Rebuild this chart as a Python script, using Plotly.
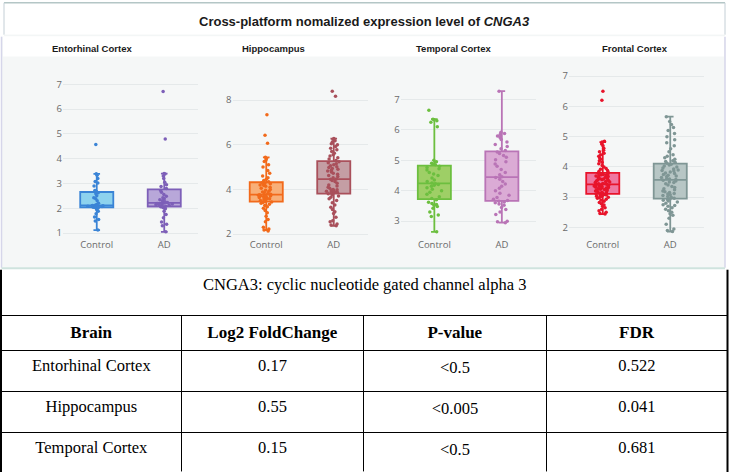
import plotly.graph_objects as go

W, H = 729, 474

# ---------------- data ----------------
regions = ["Entorhinal Cortex", "Hippocampus", "Temporal Cortex", "Frontal Cortex"]
groups = ["Control", "AD"]

ec_control = [1.12, 1.49, 1.55, 1.65, 1.78, 1.88, 1.95, 2.0, 2.03,
              2.04, 2.05, 2.06, 2.07, 2.08, 2.09, 2.1, 2.1, 2.11,
              2.12, 2.15, 2.2, 2.3, 2.38, 2.42, 2.5, 2.58, 2.63,
              2.68, 2.72, 2.9, 3.02, 3.08, 3.2, 3.33, 3.39, 4.57]
ec_ad = [1.05, 1.29, 1.35, 1.45, 1.62, 1.75, 1.88, 1.98, 2.03, 2.06,
         2.08, 2.1, 2.12, 2.14, 2.15, 2.17, 2.18, 2.19, 2.2, 2.21,
         2.23, 2.26, 2.3, 2.34, 2.38, 2.42, 2.48, 2.55, 2.65, 2.72,
         2.8, 2.88, 2.95, 3.05, 3.2, 3.3, 3.38, 3.4, 4.79, 6.71]

hc_control = [2.13, 2.18, 2.22, 2.3, 2.55, 2.65, 2.8, 2.95, 3.05, 3.15, 3.22, 3.28, 3.33, 3.38, 3.41, 3.44,
              3.46, 3.5, 3.53, 3.55, 3.58, 3.6, 3.62, 3.64, 3.66, 3.68, 3.7, 3.71, 3.72, 3.74, 3.75, 3.76,
              3.78, 3.82, 3.85, 3.88, 3.92, 3.96, 4.0, 4.05, 4.1, 4.14, 4.18, 4.2, 4.22, 4.25, 4.27, 4.3,
              4.34, 4.4, 4.45, 4.52, 4.6, 4.72, 4.85, 5.0, 5.1, 5.25, 5.32, 5.38, 5.44, 6.07, 6.43, 7.35]
hc_ad = [2.37, 2.4, 2.45, 2.55, 2.6, 2.75, 2.92, 3.0, 3.1, 3.2, 3.3, 3.4, 3.5, 3.58, 3.65, 3.7, 3.75, 3.8,
         3.83, 3.85, 3.87, 3.88, 3.9, 3.92, 3.94, 3.96, 3.98, 4.0, 4.05, 4.1, 4.15, 4.2, 4.28, 4.35, 4.4, 4.45,
         4.47, 4.52, 4.58, 4.62, 4.68, 4.72, 4.78, 4.82, 4.86, 4.9, 4.94, 4.98, 5.02, 5.06, 5.1, 5.15, 5.2, 5.24,
         5.3, 5.36, 5.42, 5.5, 5.55, 5.62, 5.7, 5.78, 5.85, 5.92, 6.0, 6.05, 6.12, 6.18, 6.25, 6.28, 8.18, 8.4]

tc_control = [2.65, 3.15, 3.2, 3.3, 3.42, 3.48, 3.52, 3.55, 3.58, 3.62, 3.7,
              3.74, 3.8, 3.88, 3.95, 4.0, 4.05, 4.1, 4.15, 4.18, 4.2, 4.23,
              4.25, 4.3, 4.35, 4.42, 4.5, 4.55, 4.6, 4.68, 4.72, 4.76, 4.8,
              4.85, 4.88, 4.9, 4.95, 5.0, 6.1, 6.25, 6.3, 6.33, 6.35, 6.64]
tc_ad = [2.95, 2.98, 3.0, 3.22, 3.3, 3.38, 3.45, 3.52, 3.56, 3.6, 3.63, 3.65,
         3.68, 3.72, 3.78, 3.85, 3.92, 4.0, 4.08, 4.15, 4.22, 4.3, 4.38, 4.43,
         4.46, 4.52, 4.6, 4.7, 4.8, 4.88, 4.95, 5.02, 5.1, 5.16, 5.22, 5.27,
         5.32, 5.38, 5.45, 5.52, 5.6, 5.68, 5.75, 5.8, 5.85, 5.88, 5.92, 7.27]

fc_control = [2.44, 2.46, 2.5, 2.55, 2.6, 2.65, 2.7, 2.74, 2.78, 2.82, 2.86, 2.9,
              2.93, 2.96, 2.98, 3.0, 3.02, 3.03, 3.05, 3.06, 3.07, 3.08, 3.09, 3.1,
              3.12, 3.13, 3.15, 3.16, 3.18, 3.2, 3.21, 3.22, 3.24, 3.25, 3.26, 3.28,
              3.3, 3.31, 3.32, 3.33, 3.34, 3.35, 3.36, 3.37, 3.38, 3.39, 3.4, 3.42,
              3.43, 3.44, 3.45, 3.46, 3.48, 3.5, 3.52, 3.53, 3.55, 3.56, 3.58, 3.6,
              3.61, 3.62, 3.64, 3.66, 3.68, 3.7, 3.71, 3.72, 3.74, 3.75, 3.77, 3.79,
              3.82, 3.85, 3.88, 3.92, 3.95, 4.0, 4.05, 4.1, 4.15, 4.2, 4.25, 4.3,
              4.35, 4.4, 4.45, 4.5, 4.55, 4.62, 4.7, 4.76, 4.82, 4.85, 6.2, 6.5]
fc_ad = [1.86, 1.9, 1.95, 2.1, 2.3, 2.4, 2.45, 2.5, 2.55, 2.6, 2.65, 2.7, 2.72, 2.75, 2.8, 2.84, 2.87, 2.9, 2.92, 2.94,
         2.96, 3.0, 3.02, 3.05, 3.08, 3.1, 3.12, 3.15, 3.18, 3.2, 3.24, 3.28, 3.32, 3.35, 3.4, 3.44, 3.48, 3.5, 3.53, 3.56,
         3.58, 3.6, 3.62, 3.65, 3.68, 3.7, 3.72, 3.75, 3.78, 3.8, 3.83, 3.86, 3.88, 3.9, 3.93, 3.96, 4.0, 4.03, 4.06, 4.09,
         4.12, 4.15, 4.18, 4.2, 4.25, 4.3, 4.35, 4.4, 4.5, 4.6, 4.7, 4.8, 4.9, 5.0, 5.1, 5.2, 5.3, 5.4, 5.5, 5.66]

region_data = [(ec_control, ec_ad), (hc_control, hc_ad), (tc_control, tc_ad), (fc_control, fc_ad)]

main_title = "<b>Cross-platform nomalized expression level of <i>CNGA3</i></b>"
table_title = "CNGA3: cyclic nucleotide gated channel alpha 3"
table_header = ["Brain", "Log2 FoldChange", "P-value", "FDR"]
table_brain = ["Entorhinal Cortex", "Hippocampus", "Temporal Cortex"]
table_log2fc = ["0.17", "0.55", "0.15"]
table_pvalue = ["<0.5", "<0.005", "<0.5"]
table_fdr = ["0.522", "0.041", "0.681"]

# ---------------- styling ----------------
line_colors = [("#3a84d6", "#7d5fb8"), ("#f26a1b", "#a9505b"),
               ("#6cbf3f", "#b974b6"), ("#e8142b", "#7f9695")]
fill_colors = [("#8dd2ee", "#b8a7d9"), ("#f8af78", "#c49ea4"),
               ("#9ecf66", "#dbabd5"), ("#ef78a1", "#b7c6c5")]

x_domains_px = [(63, 198), (232.5, 367.5), (400.6, 535.6), (569, 704)]
plot_top, plot_bottom = 70, 238
y_ranges = [[0.8, 7.52], [1.822, 9.289], [2.446, 7.919], [1.649, 7.157]]
dticks = [1, 2, 1, 1]
title_centers_px = [92, 273, 454, 635]


def px(x):
    return x / W


def py(y):
    return 1 - y / H


fig = go.Figure()

tick_font = dict(family="Open Sans", size=9.5, color="#6a6a6a")

for i, (ctrl, ad) in enumerate(region_data):
    ax = "" if i == 0 else str(i + 1)
    for j, (g, vals) in enumerate(zip(groups, (ctrl, ad))):
        fig.add_trace(go.Box(
            y=vals, x=[g] * len(vals), name=g,
            xaxis="x" + ax, yaxis="y" + ax,
            boxpoints="all", jitter=0.55, pointpos=0,
            width=0.49, whiskerwidth=0.2,
            line=dict(color=line_colors[i][j], width=1.8),
            fillcolor=fill_colors[i][j],
            marker=dict(color=line_colors[i][j], size=3.5),
            showlegend=False,
        ))
    x0, x1 = x_domains_px[i]
    fig.layout["xaxis" + ax] = dict(
        domain=[px(x0), px(x1)], anchor="y" + ax, type="category",
        categoryorder="array", categoryarray=groups, range=[-0.5, 1.5],
        showgrid=False, zeroline=False, showline=False, ticks="",
        tickfont=tick_font, fixedrange=True,
    )
    fig.layout["yaxis" + ax] = dict(
        domain=[py(plot_bottom), py(plot_top)], anchor="x" + ax,
        range=y_ranges[i], dtick=dticks[i], showgrid=True,
        gridcolor="#e5e9ea", gridwidth=1, zeroline=False, showline=False,
        ticks="", tickfont=tick_font, fixedrange=True,
    )

# ---------------- table ----------------
fig.add_trace(go.Table(
    domain=dict(x=[px(1), px(727)], y=[0, py(316)]),
    columnwidth=[180.7, 181.6, 183.4, 180.3],
    header=dict(
        values=["<b>%s</b>" % h for h in table_header],
        height=33, align="center",
        line=dict(color="black", width=1), fill_color="white",
        font=dict(family="Liberation Serif", size=17, color="black"),
    ),
    cells=dict(
        values=[table_brain, table_log2fc, table_pvalue, table_fdr],
        height=41, align="center",
        line=dict(color="black", width=1), fill_color="white",
        font=dict(family="Liberation Serif", size=16.5, color="black"),
    ),
))

# ---------------- decorations ----------------
shapes = [
    # chart panel background
    dict(type="rect", xref="paper", yref="paper", x0=px(1.5), x1=px(725), y0=py(268), y1=py(35),
         fillcolor="#f5f7f7", line=dict(width=0), layer="below"),
    dict(type="rect", xref="paper", yref="paper", x0=px(3), x1=px(724), y0=py(55), y1=py(35),
         fillcolor="white", line=dict(width=0), layer="below"),
    dict(type="line", xref="paper", yref="paper", x0=px(1.5), x1=px(1.5), y0=py(268), y1=py(35),
         line=dict(color="#d6d6ea", width=1.5)),
    dict(type="line", xref="paper", yref="paper", x0=px(725), x1=px(725), y0=py(268), y1=py(35),
         line=dict(color="#d6d6ea", width=1.5)),
    dict(type="line", xref="paper", yref="paper", x0=px(1.5), x1=px(725), y0=py(268.5), y1=py(268.5),
         line=dict(color="#cfe3de", width=2)),
    # top title band borders
    dict(type="line", xref="paper", yref="paper", x0=px(4), x1=px(725), y0=py(0.8), y1=py(0.8),
         line=dict(color="#b4c6c6", width=1.5)),
    dict(type="line", xref="paper", yref="paper", x0=px(4), x1=px(4), y0=py(33), y1=py(0.8),
         line=dict(color="#c4cfd6", width=1)),
    dict(type="line", xref="paper", yref="paper", x0=px(725), x1=px(725), y0=py(33), y1=py(0.8),
         line=dict(color="#c4cfd6", width=1)),
    dict(type="line", xref="paper", yref="paper", x0=px(4), x1=px(725), y0=py(33.5), y1=py(33.5),
         line=dict(color="#eef2f2", width=1)),
    # table outer borders
    dict(type="line", xref="paper", yref="paper", x0=px(1), x1=px(1), y0=0, y1=py(270),
         line=dict(color="black", width=2)),
    dict(type="line", xref="paper", yref="paper", x0=px(727.5), x1=px(727.5), y0=0, y1=py(270),
         line=dict(color="black", width=2)),
]

annotations = [
    dict(text=main_title, x=px(364.5), y=py(20), xref="paper", yref="paper",
         showarrow=False, xanchor="center", yanchor="middle",
         font=dict(family="Liberation Sans", size=13, color="#1a1a1a")),
    dict(text=table_title, x=px(364), y=py(285), xref="paper", yref="paper",
         showarrow=False, xanchor="center", yanchor="middle",
         font=dict(family="Liberation Serif", size=16.5, color="black")),
]
for name, cx in zip(regions, title_centers_px):
    annotations.append(dict(text="<b>%s</b>" % name, x=px(cx), y=py(47), xref="paper", yref="paper",
                            showarrow=False, xanchor="center", yanchor="middle",
                            font=dict(family="Liberation Sans", size=9.5, color="#1a1a1a")))

fig.update_layout(
    width=W, height=H, margin=dict(l=0, r=0, t=0, b=0),
    paper_bgcolor="white", plot_bgcolor="rgba(0,0,0,0)",
    shapes=shapes, annotations=annotations, showlegend=False,
    boxmode="overlay",
)

fig.write_html(
    "out.html",
    config=dict(displayModeBar=False),
    post_script="document.body.style.margin='0';document.body.style.overflow='hidden';",
)
